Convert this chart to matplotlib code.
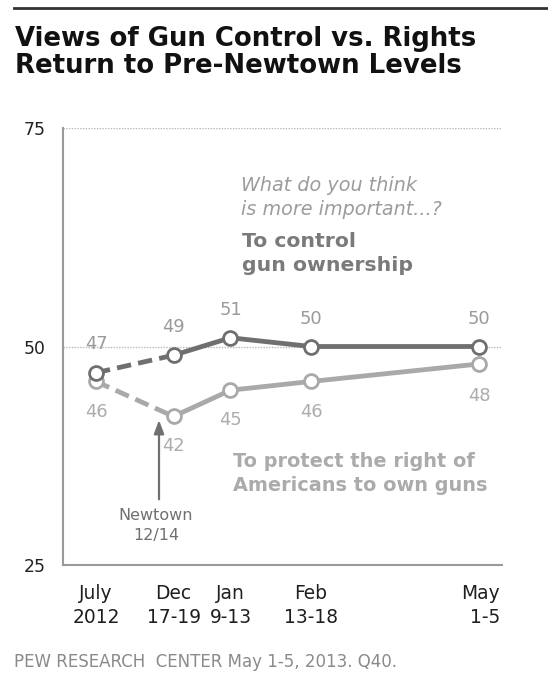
import matplotlib
matplotlib.use("Agg")
import matplotlib.pyplot as plt
from matplotlib.lines import Line2D
from matplotlib.transforms import ScaledTranslation

# ---- data ----
x_labels = ["July\n2012", "Dec\n17-19", "Jan\n9-13", "Feb\n13-18", "May\n1-5"]
x_pos = [0.0, 1.0, 1.735, 2.774, 4.942]
control = [47, 49, 51, 50, 50]
rights = [46, 42, 45, 46, 48]
y_ticks = [25, 50, 75]

c_dark = "#6f6f6f"
c_light = "#a9a9a9"

W, H = 548, 685
fig = plt.figure(figsize=(W/100, H/100), dpi=100)
L, R, T, B = 63, 502, 128, 565
ax = fig.add_axes([L/W, 1-B/H, (R-L)/W, (B-T)/H])
ax.set_xlim(-0.426, 5.239)
ax.set_ylim(25, 75)

# gridlines
for yv in [50, 75]:
    ax.axhline(yv, color="#b8b8b8", lw=1, ls=(0, (1, 1)), zorder=1)

def draw(series, color, z):
    ax.plot(x_pos[:2], series[:2], color=color, lw=3.45, ls=(0, (3.0, 1.5)),
            solid_capstyle="butt", zorder=z)
    ax.plot(x_pos[1:], series[1:], color=color, lw=3.45, zorder=z)
    ax.plot(x_pos, series, ls="none", marker="o", ms=10, mfc="white",
            mec=color, mew=2, zorder=z + 1)

draw(rights, c_light, 3)
draw(control, c_dark, 5)

# value labels (offsets in points, baseline aligned)
ctrl_off = [17.0, 16.4, 16.5, 16.0, 16.0]
rt_off = [-25.3, -25.2, -24.7, -25.3, -26.3]
for i, (xv, v) in enumerate(zip(x_pos, control)):
    ax.annotate(str(v), (xv, v), xytext=(0, ctrl_off[i]), textcoords="offset points",
                ha="center", va="baseline", fontsize=12.9, color="#9a9a9a", zorder=7)
for i, (xv, v) in enumerate(zip(x_pos, rights)):
    ax.annotate(str(v), (xv, v), xytext=(0, rt_off[i]), textcoords="offset points",
                ha="center", va="baseline", fontsize=12.9, color="#acacac", zorder=7)

# spines
for s in ["top", "right"]:
    ax.spines[s].set_visible(False)
for s in ["left", "bottom"]:
    ax.spines[s].set_color("#9a9a9a")
    ax.spines[s].set_linewidth(1.5)

ax.set_yticks(y_ticks)
ax.set_yticklabels([str(t) for t in y_ticks])
ax.tick_params(axis="y", length=0, pad=12.5, labelsize=12.4, labelcolor="#222222")

ax.set_xticks(x_pos)
ax.set_xticklabels(x_labels)
ax.tick_params(axis="x", length=0, pad=14, labelsize=13.4, labelcolor="#1e1e1e")
for lab in ax.get_xticklabels():
    lab.set_linespacing(1.3)
last = ax.get_xticklabels()[-1]
last.set_horizontalalignment("right")
last.set_transform(last.get_transform() + ScaledTranslation(0.21, 0, fig.dpi_scale_trans))

# annotations (figure coords in pixels, baseline)
def ftext(px, py, s, **kw):
    fig.text(px/W, 1-py/H, s, va="baseline", **kw)

ftext(241, 191, "What do you think", fontsize=13.75, style="italic", color="#9c9c9c")
ftext(241, 215, "is more important...?", fontsize=13.75, style="italic", color="#9c9c9c")
ftext(242, 247, "To control", fontsize=14.7, fontweight="bold", color="#7a7a7a")
ftext(242, 271, "gun ownership", fontsize=14.7, fontweight="bold", color="#7a7a7a")
ftext(233, 467, "To protect the right of", fontsize=13.85, fontweight="bold", color="#ababab")
ftext(233, 491, "Americans to own guns", fontsize=13.85, fontweight="bold", color="#ababab")
ftext(156, 520, "Newtown", fontsize=11.5, color="#707070", ha="center")
ftext(156, 540, "12/14", fontsize=11.5, color="#707070", ha="center")

arrow_x = (159 - 96) / 77.5
ax.annotate("", xy=(arrow_x, 41.9), xytext=(arrow_x, 32.2),
            arrowprops=dict(arrowstyle="-|>,head_length=0.8,head_width=0.3",
                            color="#707070", lw=1.6))

# title and rule
fig.add_artist(Line2D([14/W, 1], [1-8/H, 1-8/H], color="#333333", lw=2))
ftext(15, 46.5, "Views of Gun Control vs. Rights", fontsize=18.7, fontweight="bold",
      color="#111111")
ftext(15, 73, "Return to Pre-Newtown Levels", fontsize=18.7, fontweight="bold",
      color="#111111")

ftext(14, 667, "PEW RESEARCH  CENTER May 1-5, 2013. Q40.", fontsize=12,
      color="#8a8a8a")

fig.savefig("out.png", dpi=100)
